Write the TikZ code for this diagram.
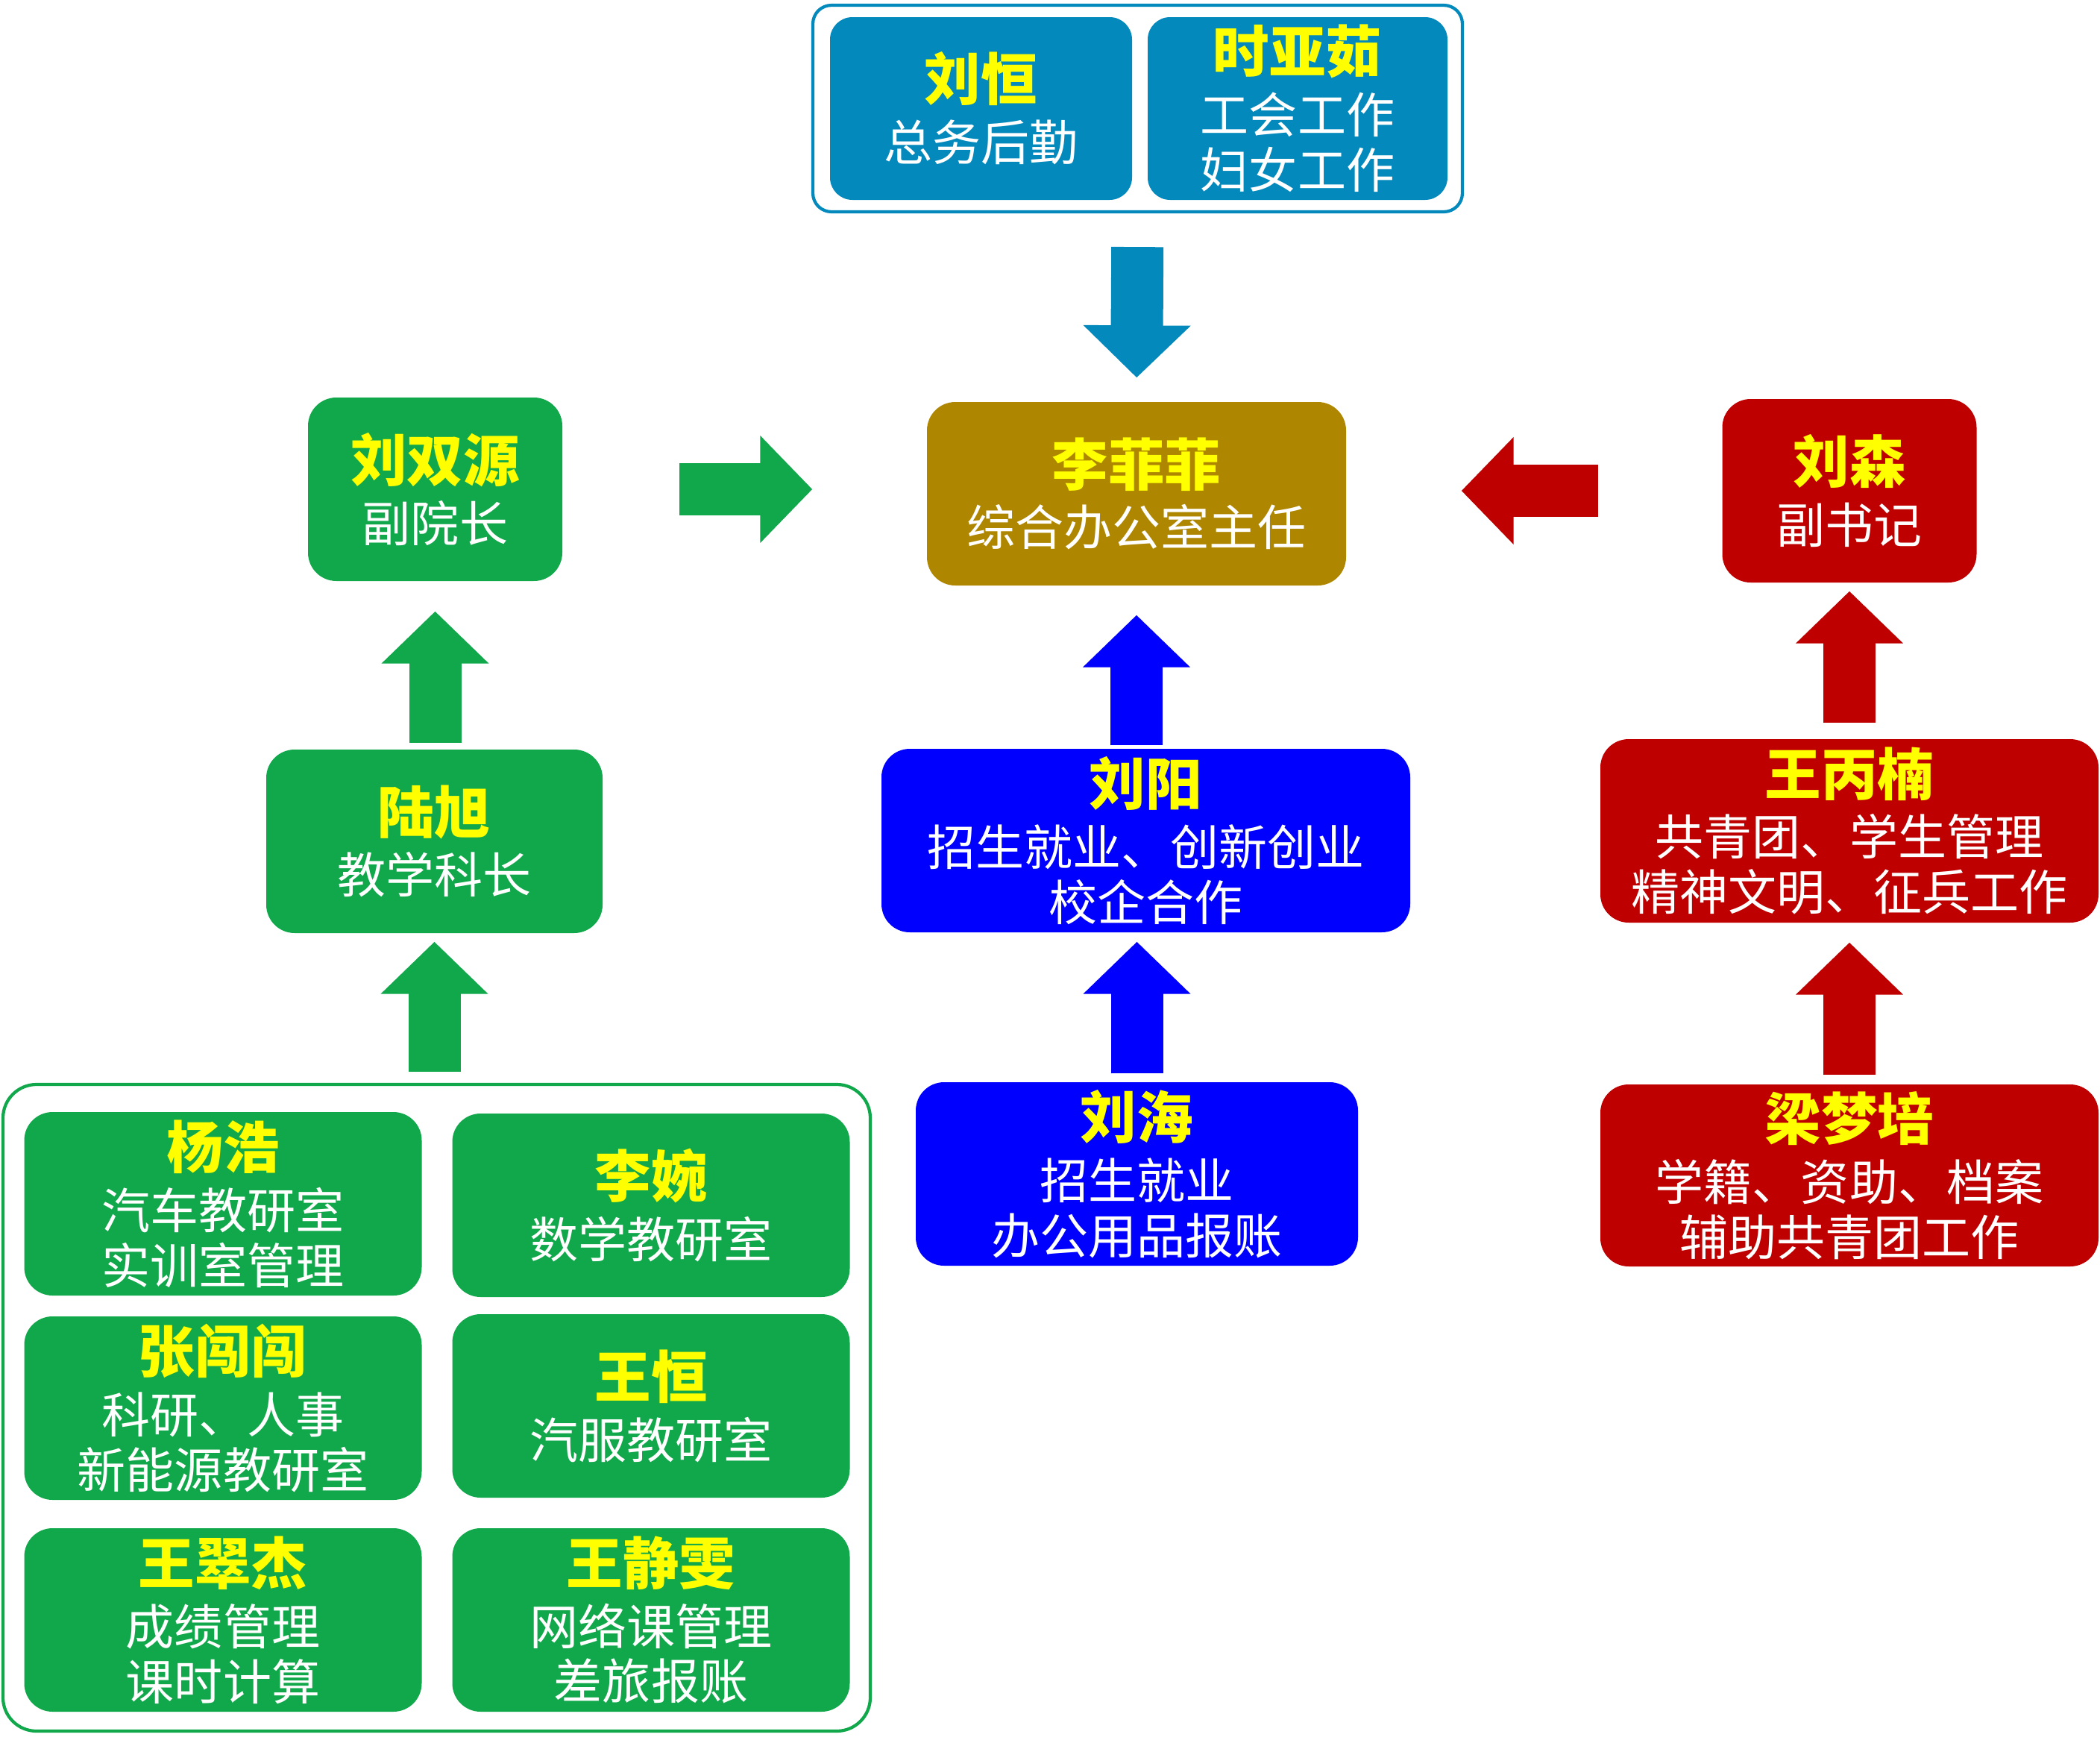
\documentclass[tikz,border=0pt]{standalone}
\usepackage{fontspec}
\usepackage{tikz}
\usetikzlibrary{arrows.meta,positioning,calc}
\newfontfamily\cjk{Noto Sans CJK SC}
\definecolor{ofTeal}{HTML}{0389BC}
\definecolor{ofGold}{HTML}{AE8600}
\definecolor{ofGreen}{HTML}{10A84B}
\definecolor{ofBlue}{HTML}{0000FF}
\definecolor{ofRed}{HTML}{BF0000}
\definecolor{ofYellow}{HTML}{FFFF00}
\newcommand{\nm}[1]{{\fontsize{21.5}{21}\selectfont\bfseries\color{ofYellow}#1}}
\tikzset{
  ren/.style={rounded corners=0.38cm, inner sep=0pt, minimum height=2.46cm, align=center, text=white, font=\cjk\fontsize{18.5}{21}\selectfont},
  renT/.style={ren, fill=ofTeal, rounded corners=0.3cm},
  renO/.style={ren, fill=ofGold},
  renG/.style={ren, fill=ofGreen},
  renB/.style={ren, fill=ofBlue},
  renR/.style={ren, fill=ofRed},
  grp/.style={draw=#1, line width=1.2pt, fill=white, inner sep=0pt},
  barr/.style={draw=#1, line width=0.7cm, -{Triangle[length=0.7cm,width=1.4cm]}},
}
\begin{document}
\begin{tikzpicture}
    \useasboundingbox (0,0) rectangle (28.16,-23.41);
    % groups
    \node[grp=ofTeal, rounded corners=0.25cm, minimum width=8.71cm, minimum height=2.77cm] (hq) at (15.255,-1.455) {};
    \node[grp=ofGreen, rounded corners=0.45cm, minimum width=11.63cm, minimum height=8.67cm] (jys) at (5.855,-18.875) {};
    % top
    \node[renT, minimum width=4.05cm, minimum height=2.45cm] (lheng) at (13.155,-1.455) {\nm{刘恒}\\[2pt]总务后勤};
    \node[renT, minimum width=4.02cm, minimum height=2.45cm] (syr) at (17.40,-1.455) {\nm{时亚茹}\\[2pt]工会工作\\妇女工作};
    % middle row
    \node[renO, minimum width=5.62cm] (lff) at (15.24,-6.62) {\nm{李菲菲}\\[2pt]综合办公室主任};
    \node[renG, minimum width=3.41cm] (lsy) at (5.835,-6.56) {\nm{刘双源}\\[2pt]副院长};
    \node[renR, minimum width=3.41cm] (lsen) at (24.80,-6.58) {\nm{刘森}\\[2pt]副书记};
    % second row
    \node[renG, minimum width=4.51cm] (lx) at (5.825,-11.28) {\nm{陆旭}\\[2pt]教学科长};
    \node[renB, minimum width=7.09cm] (ly) at (15.365,-11.27) {\nm{刘阳}\\[2pt]招生就业、创新创业\\校企合作};
    \node[renR, minimum width=6.68cm] (wbn) at (24.80,-11.14) {\nm{王丙楠}\\[2pt]共青团、学生管理\\精神文明、征兵工作};
    % third row
    \node[renB, minimum width=5.93cm] (lh) at (15.245,-15.74) {\nm{刘海}\\[2pt]招生就业\\办公用品报账};
    \node[renR, minimum width=6.68cm, minimum height=2.44cm] (lmp) at (24.80,-15.76) {\nm{梁梦培}\\[2pt]学籍、资助、档案\\辅助共青团工作};
    % teaching groups
    \foreach \nme/\x/\y/\txt in {yh/2.99/-16.14/{\nm{杨浩}\\[2pt]汽车教研室\\实训室管理},
                                lw/8.73/-16.16/{\nm{李婉}\\[2pt]数学教研室},
                                zcc/2.99/-18.88/{\nm{张闯闯}\\[2pt]科研、人事\\新能源教研室},
                                wh/8.73/-18.85/{\nm{王恒}\\[2pt]汽服教研室},
                                wcj/2.99/-21.72/{\nm{王翠杰}\\[2pt]成绩管理\\课时计算},
                                wjw/8.73/-21.72/{\nm{王静雯}\\[2pt]网络课管理\\差旅报账}} {
        \node[renG, minimum width=5.33cm] (\nme) at (\x,\y) {\txt};
    }
    % arrows
    \draw[barr=ofTeal, shorten <=0.45cm, shorten >=0.32cm] (hq.south) -- (lff.north);
    \draw[barr=ofGreen, shorten <=1.56cm, shorten >=1.53cm] (lsy.east) -- (lsy.east -| lff.west);
    \draw[barr=ofRed, shorten <=1.66cm, shorten >=1.54cm] (lsen.west) -- (lsen.west -| lff.east);
    \draw[barr=ofGreen, shorten <=0.08cm, shorten >=0.40cm] (lsy.south |- lx.north) -- (lsy.south);
    \draw[barr=ofGreen, shorten <=0.15cm, shorten >=0.11cm] (lx.south |- jys.north) -- (lx.south);
    \draw[barr=ofBlue, shorten <=0.04cm, shorten >=0.39cm] (lff.south |- ly.north) -- (lff.south);
    \draw[barr=ofBlue, shorten <=0.11cm, shorten >=0.12cm] (lh.north) -- (lh.north |- ly.south);
    \draw[barr=ofRed, shorten <=0.21cm, shorten >=0.11cm] (lsen.south |- wbn.north) -- (lsen.south);
    \draw[barr=ofRed, shorten <=0.12cm, shorten >=0.26cm] (lmp.north) -- (wbn.south);
\end{tikzpicture}
\end{document}
